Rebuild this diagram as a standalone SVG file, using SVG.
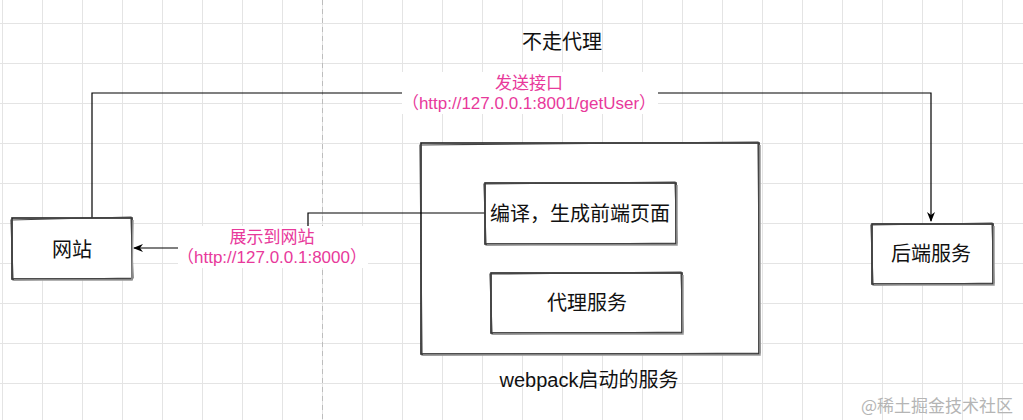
<svg xmlns="http://www.w3.org/2000/svg" width="1023" height="420" viewBox="0 0 1023 420">
<defs>
<pattern id="grid" x="2" y="23" width="40" height="40" patternUnits="userSpaceOnUse">
<path d="M0 0.5 H40 M0.5 0 V40" fill="none" stroke="#e4e4e4" stroke-width="1"/>
</pattern>
<marker id="arr" viewBox="0 0 10 10" refX="9" refY="5" markerWidth="10" markerHeight="10" markerUnits="userSpaceOnUse" orient="auto">
<path d="M0 1 L10 5 L0 9 L3 5 Z" fill="#000"/>
</marker>
</defs>
<style>
.box{fill:#fff;stroke:#222;stroke-width:1.6}
.sk{fill:none;stroke:#444;stroke-width:1.2}
.sh{fill:none;stroke:#999;stroke-width:1.5}
.t{font-family:"Liberation Sans","Noto Sans CJK SC",sans-serif;font-size:20px;fill:#111;text-anchor:middle;dominant-baseline:central}
.pk{font-family:"Liberation Sans","Noto Sans CJK SC",sans-serif;font-size:17px;fill:#e8399b;text-anchor:middle;dominant-baseline:central}
.edge{fill:none;stroke:#000;stroke-width:1.2}
</style>
<rect width="1023" height="420" fill="#fff"/>
<rect width="1023" height="420" fill="url(#grid)"/>
<line x1="322.5" y1="0" x2="322.5" y2="420" stroke="#bdbdbd" stroke-width="1" stroke-dasharray="5,4"/>

<g id="webpack">
<rect class="box" x="421" y="143" width="338" height="211"/>
<path class="sk" d="M420 145 L758 142 L760 353 L422 355 Z"/>
<path class="sh" d="M760 145 L760 355 L423 355"/>
</g>

<g id="connectors">
<path class="edge" d="M92 218 V93 H931 V221" marker-end="url(#arr)"/>
<path class="edge" d="M485 213 H308 V248 H134" marker-end="url(#arr)"/>
</g>

<g id="label-send">
<rect x="402" y="72" width="256" height="42" fill="#fff"/>
<text class="pk" x="529" y="83">发送接口</text>
<text class="pk" x="529" y="103">（http://127.0.0.1:8001/getUser）</text>
</g>

<g id="label-show">
<rect x="178" y="226" width="190" height="42" fill="#fff"/>
<text class="pk" x="272" y="237">展示到网站</text>
<text class="pk" x="272" y="257">（http://127.0.0.1:8000）</text>
</g>

<g id="title">
<text class="t" x="562" y="42">不走代理</text>
</g>

<g id="site">
<rect class="box" x="12" y="218" width="120" height="61"/>
<path class="sk" d="M11 220 L131 217 L133 278 L13 280 Z"/>
<path class="sh" d="M133 220 L132 280 L14 280"/>
<text class="t" x="72" y="250">网站</text>
</g>

<g id="compile">
<rect class="box" x="485" y="183" width="191" height="61"/>
<path class="sk" d="M484 184 L675 182 L677 243 L486 245 Z"/>
<path class="sh" d="M677 185 L677 245 L487 245"/>
<text class="t" x="580" y="214">编译，生成前端页面</text>
</g>

<g id="proxy">
<rect class="box" x="491" y="273" width="191" height="60"/>
<path class="sk" d="M490 274 L681 272 L683 332 L492 334 Z"/>
<path class="sh" d="M683 275 L683 334 L493 334"/>
<text class="t" x="587" y="303">代理服务</text>
</g>

<g id="webpack-label">
<text class="t" x="589" y="380">webpack启动的服务</text>
</g>

<g id="backend">
<rect class="box" x="872" y="224" width="121" height="60"/>
<path class="sk" d="M871 225 L992 223 L994 283 L873 285 Z"/>
<path class="sh" d="M994 226 L994 285 L874 285"/>
<text class="t" x="931" y="254">后端服务</text>
</g>

<g id="watermark">
<text x="937" y="404" font-family="'Noto Sans CJK SC',sans-serif" font-size="17" fill="#b5b5b5" text-anchor="middle" dominant-baseline="central">@稀土掘金技术社区</text>
</g>
</svg>
